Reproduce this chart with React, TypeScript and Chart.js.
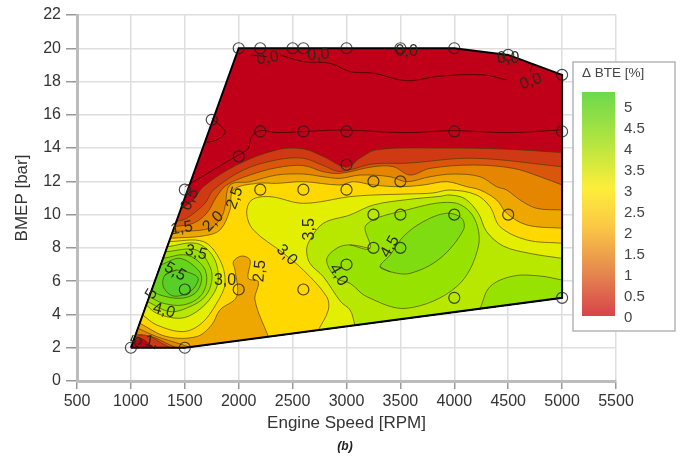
import React, { useEffect, useRef } from "react";
import { Chart, registerables } from "chart.js";

Chart.register(...registerables);

type P = [number, number];

const xTicks = [500, 1000, 1500, 2000, 2500, 3000, 3500, 4000, 4500, 5000, 5500];
const legendLabels = ["5", "4.5", "4", "3.5", "3", "2.5", "2", "1.5", "1", "0.5", "0"];

const domain: P[] = [[1000, 2], [2000, 20], [4000, 20], [4500, 19.6], [5000, 18.4], [5000, 5], [1500, 2]];
const cornerLow: P = [1500, 2];
const cornerRight: P = [5000, 5];

const measured: P[] = [
  [1000, 2], [1500, 2], [1500, 5.5], [2000, 5.5], [2600, 5.5], [3000, 7], [3250, 8], [3500, 8], [4000, 5], [5000, 5],
  [1500, 11.5], [1750, 15.7], [2000, 13.5], [2000, 20], [2200, 20], [2500, 20], [2600, 20], [3000, 20], [3500, 20],
  [4000, 20], [4500, 19.6], [5000, 18.4], [2200, 15], [2600, 15], [3000, 15], [4000, 15], [5000, 15], [3000, 13],
  [2200, 11.5], [2600, 11.5], [3000, 11.5], [3250, 12], [3500, 12], [3250, 10], [3500, 10], [4000, 10], [4500, 10],
];

// Contours: [rpm, bmep]
const top05: P[] = [[5000, 13.73], [4486, 13.93], [3868, 14], [3280, 13.9], [3126, 13.4], [3000, 12.85], [2785, 13.49], [2599, 13.95], [2352, 13.89], [1981, 12.98], [1672, 11.68], [1579, 10.88], [1462, 10.3]];
const bot05: P[] = [[1020, 2.36], [1100, 2.55], [1210, 2]];
const top10: P[] = [[5000, 12.88], [4177, 13.39], [3558, 13.09], [3249, 13.05], [2940, 12.6], [2785, 12.95], [2599, 13.39], [2352, 13.29], [2043, 12.68], [1765, 11.48], [1687, 10.68], [1517, 9.78], [1421, 9.58]];
const bot10: P[] = [[1037, 2.67], [1146, 2.77], [1285, 2.27], [1363, 2]];
const top15: P[] = [[5000, 11.78], [4795, 12.28], [4548, 12.78], [4177, 12.98], [3775, 12.78], [3589, 12.38], [3435, 12.88], [3249, 12.88], [2940, 12.48], [2785, 12.58], [2599, 12.95], [2352, 12.82], [2105, 12.38], [1888, 11.78], [1795, 11.08], [1703, 10.08], [1579, 9.48], [1404, 9.28]];
const bot15: P[] = [[1046, 2.83], [1193, 2.67], [1363, 2.17], [1425, 2]];
const top20: P[] = [[5000, 10.28], [4764, 10.38], [4610, 10.88], [4486, 11.48], [4393, 11.68], [4239, 12.28], [3991, 12.44], [3775, 12.28], [3558, 11.98], [3404, 12.28], [3126, 12.38], [2940, 12.18], [2785, 12.28], [2599, 12.44], [2352, 12.38], [2105, 11.98], [1919, 11.78], [1873, 10.48], [1842, 9.88], [1734, 9.18], [1388, 8.98]];
const bot20: P[] = [[1065, 3.17], [1239, 2.67], [1455, 2.23], [1540, 2.03]];
const top25: P[] = [[5000, 9.18], [4672, 9.38], [4486, 10.08], [4393, 10.88], [4239, 11.48], [4115, 11.68], [3929, 11.98], [3713, 11.78], [3497, 11.68], [3249, 11.78], [3064, 11.98], [2940, 11.78], [2599, 11.98], [2352, 11.88], [2167, 11.88], [1950, 11.48], [1919, 10.28], [1826, 9.08], [1672, 8.72], [1366, 8.58]];
const bot25: P[] = [[1082, 3.47], [1332, 2.67], [1610, 2.67], [1749, 3.37], [1826, 4.27], [1981, 5.07], [1966, 6.67], [1950, 7.17], [2027, 7.51], [2105, 7.27], [2089, 6.17], [2182, 5.97], [2151, 4.87], [2275, 2.66]];
const main30: P[] = [[5000, 8.28], [4672, 8.48], [4424, 9.28], [4331, 10.48], [4200, 11.2], [3960, 11.48], [3800, 11.3], [3558, 11.24], [3249, 11.18], [3032, 11.08], [2599, 10.68], [2290, 11.08], [2120, 10.88], [2074, 10.08], [2136, 9.08], [2414, 7.68], [2599, 6.67], [2816, 5.07], [2831, 4.27], [2739, 3.06]];
const main35: P[] = [[5000, 7.37], [4702, 7.67], [4455, 8.11], [4300, 8.98], [4223, 10.08], [4100, 10.95], [3960, 11.18], [3868, 11.1], [3558, 10.9], [3249, 10.58], [3032, 9.98], [2785, 9.48], [2661, 8.48], [2630, 7.87], [2661, 7.07], [2785, 6.27], [2946, 4.77], [3033, 4.27], [3079, 3.35]];
const pocket40: P[] = [[5000, 6.07], [4795, 6.31], [4548, 6.31], [4331, 5.67], [4239, 4.35]];
const ring40: P[] = [[3032, 8.18], [3218, 7.97], [3181, 9.38], [3558, 10.28], [3991, 10.72], [4177, 9.88], [4223, 8.07], [4022, 5.67], [3558, 4.37], [3187, 5.07], [3033, 5.87], [2909, 6.17], [2816, 7.27], [2909, 7.98]];
const ring45: P[] = [[3311, 6.87], [3404, 6.57], [3589, 6.47], [3868, 7.37], [4084, 9.08], [4069, 9.78], [3929, 10.08], [3713, 9.58], [3527, 8.68], [3404, 7.57]];
const peak30: P[] = [[1354, 8.38], [1672, 8.38], [1826, 7.27], [1873, 5.87], [1795, 4.67], [1656, 3.47], [1486, 2.97], [1239, 3.37], [1109, 3.97]];
const peak35: P[] = [[1337, 8.07], [1610, 8.27], [1764, 7.47], [1811, 6.07], [1749, 5.07], [1610, 4.17], [1455, 3.77], [1239, 4.07], [1143, 4.57]];
const peak40: P[] = [[1321, 7.77], [1610, 7.87], [1734, 6.87], [1749, 5.97], [1687, 5.07], [1548, 4.47], [1363, 4.17], [1154, 4.77]];
const peak45: P[] = [[1298, 7.37], [1517, 7.57], [1672, 6.87], [1703, 5.97], [1641, 5.07], [1486, 4.57], [1301, 4.67], [1171, 5.07]];
const peak50: P[] = [[1276, 6.97], [1455, 7.37], [1625, 6.67], [1656, 6.07], [1595, 5.27], [1455, 4.97], [1270, 5.17], [1193, 5.47]];
const peak55: P[] = [[1316, 6.37], [1424, 6.67], [1595, 6.37], [1625, 6.07], [1548, 5.37], [1394, 5.11], [1301, 5.67]];

const thin1: P[] = [[2383, 19.6], [2599, 19.2], [2847, 19.1], [3032, 18.6], [3249, 18.5], [3558, 18.05], [3868, 18.33], [4270, 18.4], [4486, 18.1]];
const thin2: P[] = [[2105, 19.6], [2259, 19.5]];
const thin3: P[] = [[4548, 19.5], [4718, 19], [4702, 18.6]];
const thin4: P[] = [[5000, 15.1], [4486, 14.93], [3991, 15.05], [3558, 14.93], [2940, 15.09], [2599, 14.99], [2352, 14.93], [2198, 15.05], [2120, 14.69], [2089, 13.99], [1996, 13.59], [1502, 11.68]];
const thin5: P[] = [[1749, 15.79], [1873, 14.99], [1795, 14.49], [1687, 14.33]];

const RED = "#c00018";
const C05 = "#cf3a14";
const C10 = "#d9560c";
const C15 = "#e68600";
const C20 = "#eea600";
const C25 = "#ffd800";
const C30 = "#e4ee00";
const C35 = "#b8e800";
const C40 = "#98e200";
const C45 = "#7edc10";
const C50 = "#66d41c";
const C55 = "#58ce28";
const EDGE = "rgba(70,60,0,0.65)";

const contourLabels: { t: string; x: number; y: number; r: number }[] = [
  { t: "0,0", x: 2270, y: 19.4, r: -10 }, { t: "0,0", x: 2739, y: 19.6, r: -5 }, { t: "0,0", x: 3558, y: 19.8, r: 0 },
  { t: "0,0", x: 4500, y: 19.4, r: 0 }, { t: "0,0", x: 4710, y: 18.0, r: -20 }, { t: "0,5", x: 1548, y: 10.9, r: -65 },
  { t: "2,5", x: 1965, y: 11, r: -70 }, { t: "1,5", x: 1471, y: 9.18, r: -10 }, { t: "2,0", x: 1764, y: 9.58, r: -45 },
  { t: "3,5", x: 1604, y: 7.71, r: 15 }, { t: "5,5", x: 1409, y: 6.57, r: 30 }, { t: "3,0", x: 1873, y: 6.03, r: 0 },
  { t: "5", x: 1193, y: 5.23, r: -60 }, { t: "4,0", x: 1307, y: 4.23, r: 15 }, { t: "1,", x: 1192, y: 2.35, r: 10 },
  { t: "5", x: 1060, y: 2.45, r: -65 }, { t: "3,0", x: 2445, y: 7.57, r: 45 }, { t: "2,5", x: 2197, y: 6.61, r: -85 },
  { t: "3,5", x: 2661, y: 9.12, r: -90 }, { t: "4,0", x: 2924, y: 6.37, r: 60 }, { t: "4,5", x: 3404, y: 8.07, r: -60 },
];

const toXY = (p: P) => ({ x: p[0], y: p[1] });
const sharp = (pts: P[]) => pts.flatMap((p) => [toXY(p), toXY(p)]);

// open contour, its ends doubled so the spline stays straight along the chart's edge
const openCurve = (pts: P[]) => [toXY(pts[0]), ...pts.map(toXY), toXY(pts[pts.length - 1])];

const region = (color: string, pieces: P[][], edge: P[]) => ({
  data: [...pieces.flatMap(openCurve), ...sharp(edge), toXY(pieces[0][0])],
  backgroundColor: color, borderColor: EDGE, borderWidth: 1, fill: "shape" as const,
  showLine: true, pointRadius: 0, tension: 0.35,
});
const ring = (color: string, pts: P[]) => ({
  data: [...pts, pts[0], pts[1]].map(toXY),
  backgroundColor: color, borderColor: EDGE, borderWidth: 1, fill: "shape" as const,
  showLine: true, pointRadius: 0, tension: 0.35,
});
const thin = (pts: P[]) => ({
  data: pts.map(toXY), borderColor: "rgba(50,0,0,0.75)", borderWidth: 1, fill: false,
  showLine: true, pointRadius: 0, tension: 0.35,
});

const textPlugin = {
  id: "overlay",
  afterDatasetsDraw(chart: any) {
    const { ctx, scales } = chart;
    ctx.save();
    ctx.fillStyle = "#2a2a1a";
    ctx.font = '16px "Liberation Sans"';
    ctx.textAlign = "center";
    ctx.textBaseline = "middle";
    for (const l of contourLabels) {
      ctx.save();
      ctx.translate(scales.x.getPixelForValue(l.x), scales.y.getPixelForValue(l.y));
      ctx.rotate((l.r * Math.PI) / 180);
      ctx.fillText(l.t, 0, 0);
      ctx.restore();
    }
    ctx.restore();
  },
  afterDraw(chart: any) {
    const { ctx } = chart;
    ctx.save();
    ctx.fillStyle = "#ffffff";
    ctx.strokeStyle = "#b5b5b5";
    ctx.lineWidth = 1.5;
    ctx.fillRect(573, 62, 102, 269);
    ctx.strokeRect(573, 62, 102, 269);
    ctx.fillStyle = "#444";
    ctx.font = '13.5px "Liberation Sans"';
    ctx.textAlign = "left";
    ctx.textBaseline = "middle";
    ctx.fillText("Δ BTE [%]", 582, 73);
    const g = ctx.createLinearGradient(0, 92, 0, 316);
    g.addColorStop(0, "#6cd94c");
    g.addColorStop(0.24, "#b9e63f");
    g.addColorStop(0.43, "#fdee3a");
    g.addColorStop(0.6, "#fbc845");
    g.addColorStop(0.8, "#e58a4e");
    g.addColorStop(1, "#d8434b");
    ctx.fillStyle = g;
    ctx.fillRect(582, 92, 33, 224);
    ctx.fillStyle = "#444";
    ctx.font = '15px "Liberation Sans"';
    legendLabels.forEach((t, i) => ctx.fillText(t, 624, 108 + i * 21));
    ctx.fillStyle = "#222";
    ctx.font = 'italic bold 12px "Liberation Sans"';
    ctx.textAlign = "center";
    ctx.fillText("(b)", 345, 447);
    ctx.restore();
  },
};

export default function App() {
  const ref = useRef<HTMLCanvasElement>(null);
  useEffect(() => {
    const paintOrder: any[] = [
      { ...region(RED, [domain], []), borderWidth: 0, tension: 0 },
      region(C05, [top05, bot05], [cornerLow, cornerRight]),
      region(C10, [top10, bot10], [cornerLow, cornerRight]),
      region(C15, [top15, bot15], [cornerLow, cornerRight]),
      region(C20, [top20, bot20], [cornerRight]),
      region(C25, [top25, bot25], [cornerRight]),
      region(C30, [main30], [cornerRight]),
      region(C30, [peak30], []),
      region(C35, [main35], [cornerRight]),
      region(C35, [peak35], []),
      region(C40, [peak40], []),
      region(C45, [peak45], []),
      region(C50, [peak50], []),
      ring(C55, peak55),
      region(C40, [pocket40], [cornerRight]),
      ring(C40, ring40),
      ring(C45, ring45),
      thin(thin1), thin(thin2), thin(thin3), thin(thin4), thin(thin5),
      {
        data: [...domain, domain[0]].map(toXY), borderColor: "#000", borderWidth: 2, fill: false,
        showLine: true, pointRadius: 0, tension: 0,
      },
      {
        data: measured.map(toXY), showLine: false, pointRadius: 5.5, pointBorderWidth: 1.2,
        pointBackgroundColor: "transparent", pointBorderColor: "rgba(30,30,30,0.8)",
      },
    ];
    const chart = new Chart(ref.current!, {
      type: "scatter",
      data: { datasets: paintOrder.slice().reverse() },
      options: {
        responsive: false,
        animation: false,
        layout: { padding: { left: 0, right: 65, top: 15, bottom: 0 } },
        plugins: { legend: { display: false }, tooltip: { enabled: false } },
        scales: {
          x: {
            type: "linear", min: 500, max: 5500,
            afterFit: (s: any) => { s.height = 80; },
            afterBuildTicks: (s: any) => { s.ticks = xTicks.map((v) => ({ value: v })); },
            grid: { color: "#dedede", lineWidth: 1.5, tickColor: "#999", tickLength: 8 },
            border: { color: "#bcbcbc", width: 3 },
            ticks: { color: "#333", font: { family: "Liberation Sans", size: 16 }, padding: 3, maxRotation: 0, autoSkip: false, callback: (v: any) => String(v) },
            title: { display: true, text: "Engine Speed [RPM]", color: "#333", font: { family: "Liberation Sans", size: 17 }, padding: { top: 0, bottom: 27 } },
          },
          y: {
            type: "linear", min: 0, max: 22,
            afterFit: (s: any) => { s.width = 77; },
            grid: { color: "#dedede", lineWidth: 1.5, tickColor: "#999", tickLength: 11 },
            border: { color: "#bcbcbc", width: 3 },
            ticks: { stepSize: 2, color: "#333", font: { family: "Liberation Sans", size: 16 }, padding: 5 },
            title: { display: true, text: "BMEP [bar]", color: "#333", font: { family: "Liberation Sans", size: 17 }, padding: { top: 12, bottom: 0 } },
          },
        },
      },
      plugins: [textPlugin],
    } as any);
    return () => chart.destroy();
  }, []);
  return (
    <div style={{ position: "absolute", left: 0, top: 0, width: 681, height: 461, background: "#fff" }}>
      <canvas ref={ref} width={681} height={461} style={{ display: "block", filter: "blur(0.5px)" }} />
    </div>
  );
}
